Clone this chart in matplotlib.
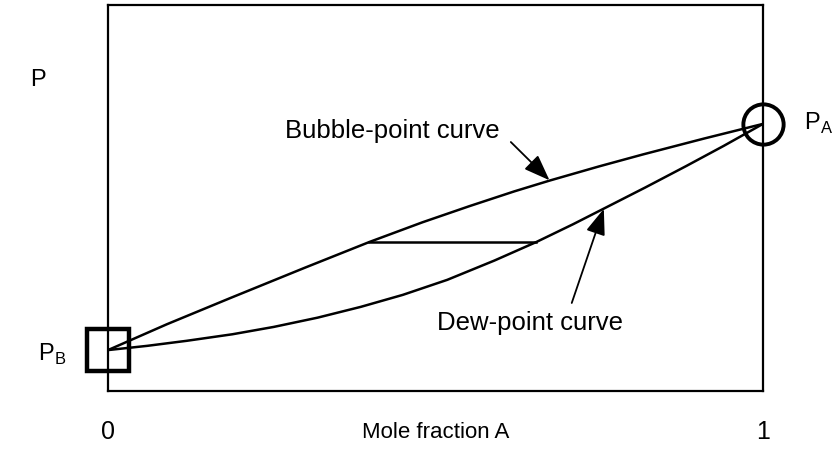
import matplotlib
matplotlib.use("Agg")
import matplotlib.pyplot as plt

plt.rcParams['font.family'] = ['Liberation Sans', 'DejaVu Sans']
plt.rcParams['mathtext.fontset'] = 'custom'
plt.rcParams['mathtext.rm'] = 'Liberation Sans'

# Bubble-point curve (upper)
bubble_x = [0.0, 0.09, 0.187, 0.30, 0.399, 0.48, 0.552, 0.62, 0.674, 0.75, 0.817, 0.91, 1.0]
bubble_p = [0.106, 0.173, 0.241, 0.319, 0.386, 0.437, 0.479, 0.517, 0.545, 0.582, 0.613, 0.654, 0.692]

# Dew-point curve (lower)
dew_x = [0.0, 0.06, 0.120, 0.19, 0.253, 0.32, 0.386, 0.45, 0.518, 0.59, 0.654,
         0.71, 0.761, 0.82, 0.883, 0.94, 1.0]
dew_p = [0.106, 0.117, 0.130, 0.147, 0.166, 0.190, 0.218, 0.249, 0.288, 0.338, 0.386,
         0.432, 0.476, 0.527, 0.583, 0.635, 0.692]

# Tie line
tie_x = [0.399, 0.654]
tie_p = [0.386, 0.386]

# Pure component pressures
pB = (0.0, 0.106)
pA = (1.0, 0.692)

x_ticks = [0, 1]
x_ticklabels = ["0", "1"]

fig = plt.figure(figsize=(8.34, 4.5), dpi=100)
ax = fig.add_axes([108/834, 1-391/450, 655/834, 386/450])
ax.set_xlim(0, 1)
ax.set_ylim(0, 1)
for s in ax.spines.values():
    s.set_linewidth(1.6)

lw = 1.8
ax.plot(bubble_x, bubble_p, color='black', lw=lw, solid_joinstyle='round')
ax.plot(dew_x, dew_p, color='black', lw=lw, solid_joinstyle='round')
ax.plot(tie_x, tie_p, color='black', lw=lw)

ax.plot([pB[0]], [pB[1]], marker='s', markersize=30, markerfacecolor='none',
        markeredgecolor='black', markeredgewidth=3.2, clip_on=False)
ax.plot([pA[0]], [pA[1]], marker='o', markersize=29, markerfacecolor='none',
        markeredgecolor='black', markeredgewidth=2.8, clip_on=False)

ax.text(1.085, pA[1], r'P$_{\mathrm{A}}$', fontsize=17, ha='center', va='center',
        transform=ax.transData, clip_on=False)
ax.text(-0.085, pB[1] - 0.01, r'P$_{\mathrm{B}}$', fontsize=17, ha='center', va='center',
        transform=ax.transData, clip_on=False)

ax.text(0.434, 0.674, 'Bubble-point curve', fontsize=18.5, ha='center', va='center')
ax.text(0.645, 0.176, 'Dew-point curve', fontsize=18.5, ha='center', va='center')

ap = dict(arrowstyle='-|>,head_length=1.6,head_width=0.6', lw=1.3, color='black',
          shrinkA=0, shrinkB=0)
ax.annotate('', xy=(0.674, 0.546), xytext=(0.615, 0.645), arrowprops=ap)
ax.annotate('', xy=(0.757, 0.472), xytext=(0.708, 0.228), arrowprops=ap)

ax.set_xticks(x_ticks, x_ticklabels)
ax.set_yticks([])
ax.tick_params(axis='x', length=0, pad=21, labelsize=18)
ax.set_xlabel('Mole fraction A', fontsize=16)
ax.xaxis.set_label_coords(0.5, -0.08)
ax.xaxis.label.set_va('top')
ax.set_ylabel('P', rotation=0, fontsize=17, ha='center', va='center')
ax.yaxis.set_label_coords(-0.107, 0.806)

fig.savefig('out.png', dpi=100)
